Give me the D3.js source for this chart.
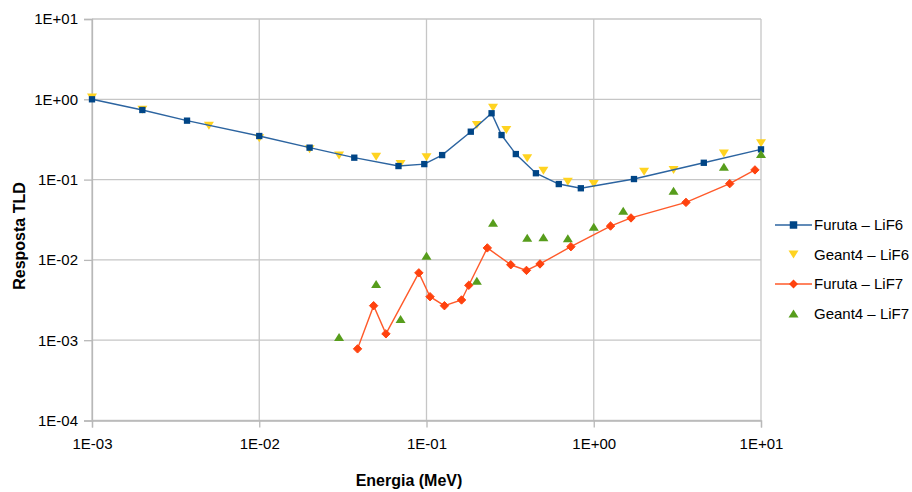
<!DOCTYPE html>
<html>
<head>
<meta charset="utf-8">
<script src="https://cdn.jsdelivr.net/npm/d3@7"></script>
<style>
  body { margin: 0; background: #fff; }
  text { font-family: "Liberation Sans", Arial, sans-serif; }
</style>
</head>
<body>
<div id="chart"></div>
<script>
// Data (energy in MeV, TLD response)
var furutaLiF6E = [0.001, 0.002, 0.0037, 0.01, 0.02, 0.037, 0.068, 0.097, 0.124, 0.184, 0.245, 0.281, 0.342, 0.451, 0.618, 0.837, 1.74, 4.55, 10]
var furutaLiF6R = [1.0, 0.736, 0.542, 0.349, 0.25, 0.1875, 0.1475, 0.156, 0.202, 0.395, 0.67, 0.359, 0.208, 0.12, 0.088, 0.078, 0.1016, 0.162, 0.238]

var geantLiF6E = [0.001, 0.002, 0.005, 0.01, 0.02, 0.03, 0.05, 0.07, 0.1, 0.2, 0.25, 0.3, 0.4, 0.5, 0.7, 1, 2, 3, 6, 10]
var geantLiF6R = [1.05, 0.74, 0.47, 0.327, 0.238, 0.2, 0.193, 0.156, 0.19, 0.478, 0.786, 0.415, 0.184, 0.129, 0.094, 0.088, 0.125, 0.132, 0.212, 0.283]

var furutaLiF7E = [0.0387, 0.0483, 0.0572, 0.09, 0.105, 0.128, 0.162, 0.179, 0.231, 0.319, 0.396, 0.477, 0.73, 1.26, 1.67, 3.56, 6.5, 9.2]
var furutaLiF7R = [0.00078, 0.00269, 0.0012, 0.0069, 0.00348, 0.00269, 0.00317, 0.00483, 0.0141, 0.0087, 0.0074, 0.0089, 0.0146, 0.0264, 0.0333, 0.052, 0.089, 0.132]

var geantLiF7E = [0.03, 0.05, 0.07, 0.1, 0.2, 0.25, 0.4, 0.5, 0.7, 1, 1.5, 3, 6, 10]
var geantLiF7R = [0.0011, 0.005, 0.00184, 0.0113, 0.0055, 0.029, 0.0189, 0.0192, 0.0186, 0.0259, 0.041, 0.0728, 0.145, 0.209]

var xTicks = [0.001, 0.01, 0.1, 1, 10]
var xTickLabels = ["1E-03", "1E-02", "1E-01", "1E+00", "1E+01"]
var yTicks = [0.0001, 0.001, 0.01, 0.1, 1, 10]
var yTickLabels = ["1E-04", "1E-03", "1E-02", "1E-01", "1E+00", "1E+01"]

var seriesNames = ["Furuta \u2013 LiF6", "Geant4 \u2013 LiF6", "Furuta \u2013 LiF7", "Geant4 \u2013 LiF7"]

// Layout
var width = 912, height = 492
var margin = { top: 19, right: 151, bottom: 71.5, left: 92 }
var plotW = width - margin.left - margin.right,
    plotH = height - margin.top - margin.bottom

var blue = "#004586", yellow = "#ffd320", orange = "#ff420e", green = "#579d1c"
var gridColor = "#c6c6c6"

var svg = d3.select("#chart")
    .append("svg")
    .attr("width", width)
    .attr("height", height)

var g = svg.append("g")
    .attr("transform", "translate(" + margin.left + "," + margin.top + ")")

// Scales
var x = d3.scaleLog()
    .domain([0.001, 10])
    .range([0, plotW])

var y = d3.scaleLog()
    .domain([0.0001, 10])
    .range([plotH, 0])

// Grid lines
g.append("g")
    .selectAll("line")
    .data(xTicks)
    .enter()
    .append("line")
    .attr("x1", function(d) { return x(d) })
    .attr("x2", function(d) { return x(d) })
    .attr("y1", 0)
    .attr("y2", plotH)
    .attr("stroke", gridColor)
    .attr("stroke-width", 1.3)

g.append("g")
    .selectAll("line")
    .data(yTicks)
    .enter()
    .append("line")
    .attr("x1", 0)
    .attr("x2", plotW)
    .attr("y1", function(d) { return y(d) })
    .attr("y2", function(d) { return y(d) })
    .attr("stroke", gridColor)
    .attr("stroke-width", 1.3)

// Axes
g.append("g")
    .attr("transform", "translate(0," + plotH + ")")
    .call(d3.axisBottom(x)
        .tickValues(xTicks)
        .tickFormat(function(d, i) { return xTickLabels[i] })
        .tickSize(7)
        .tickPadding(11))

g.append("g")
    .call(d3.axisLeft(y)
        .tickValues(yTicks)
        .tickFormat(function(d, i) { return yTickLabels[i] })
        .tickSize(8)
        .tickPadding(6))

svg.selectAll(".domain, .tick line")
    .attr("stroke", "#b8b8b8")
    .attr("stroke-width", 1.3)
svg.selectAll(".tick text")
    .attr("font-family", "'Liberation Sans', Arial, sans-serif")
    .attr("font-size", "15px")
    .attr("fill", "#000")

// Axis titles
svg.append("text")
    .attr("x", 409)
    .attr("y", 486)
    .attr("text-anchor", "middle")
    .attr("font-size", "16px")
    .attr("font-weight", "bold")
    .text("Energia (MeV)")

svg.append("text")
    .attr("transform", "translate(25,236) rotate(-90)")
    .attr("text-anchor", "middle")
    .attr("font-size", "16px")
    .attr("font-weight", "bold")
    .text("Resposta TLD")

// Marker shapes
var sqSym = d3.symbol().type(d3.symbolSquare).size(40)
function diamond(s) { return "M0," + (-s) + "L" + s + ",0L0," + s + "L" + (-s) + ",0Z" }
function triDown(s) { return "M" + (-s) + "," + (-s * 0.8) + "L" + s + "," + (-s * 0.8) + "L0," + (s * 0.8) + "Z" }
function triUp(s) { return "M" + (-s) + "," + (s * 0.8) + "L" + s + "," + (s * 0.8) + "L0," + (-s * 0.8) + "Z" }

function pairs(ex, rs) { return ex.map(function(e, i) { return [e, rs[i]] }) }

var line = d3.line()
    .x(function(d) { return x(d[0]) })
    .y(function(d) { return y(d[1]) })

// Geant4 LiF6
g.append("g")
    .selectAll("path")
    .data(pairs(geantLiF6E, geantLiF6R))
    .enter()
    .append("path")
    .attr("d", triDown(5))
    .attr("transform", function(d) { return "translate(" + x(d[0]) + "," + y(d[1]) + ")" })
    .attr("fill", yellow)

// Furuta LiF6
g.append("path")
    .datum(pairs(furutaLiF6E, furutaLiF6R))
    .attr("d", line)
    .attr("fill", "none")
    .attr("stroke", "#2c64a0")
    .attr("stroke-width", 1.4)

g.append("g")
    .selectAll("path")
    .data(pairs(furutaLiF6E, furutaLiF6R))
    .enter()
    .append("path")
    .attr("d", sqSym)
    .attr("transform", function(d) { return "translate(" + x(d[0]) + "," + y(d[1]) + ")" })
    .attr("fill", blue)

// Furuta LiF7
g.append("path")
    .datum(pairs(furutaLiF7E, furutaLiF7R))
    .attr("d", line)
    .attr("fill", "none")
    .attr("stroke", "#ff5a2a")
    .attr("stroke-width", 1.4)

g.append("g")
    .selectAll("path")
    .data(pairs(furutaLiF7E, furutaLiF7R))
    .enter()
    .append("path")
    .attr("d", diamond(4.2))
    .attr("transform", function(d) { return "translate(" + x(d[0]) + "," + y(d[1]) + ")" })
    .attr("fill", orange)
    .attr("stroke", orange)
    .attr("stroke-width", 1)
    .attr("stroke-linejoin", "round")

// Geant4 LiF7
g.append("g")
    .selectAll("path")
    .data(pairs(geantLiF7E, geantLiF7R))
    .enter()
    .append("path")
    .attr("d", triUp(5))
    .attr("transform", function(d) { return "translate(" + x(d[0]) + "," + y(d[1]) + ")" })
    .attr("fill", green)

// Legend
var legend = svg.append("g")
    .attr("transform", "translate(775,225)")

seriesNames.forEach(function(name, i) {
    var row = legend.append("g")
        .attr("transform", "translate(0," + (i * 29.5) + ")")
    if (i === 0 || i === 2) {
        row.append("line")
            .attr("x1", 0).attr("x2", 37)
            .attr("y1", 0).attr("y2", 0)
            .attr("stroke", i === 0 ? "#2c64a0" : "#ff5a2a")
            .attr("stroke-width", 1.4)
    }
    var mk = row.append("path")
        .attr("transform", "translate(18.5,0)")
    if (i === 0) mk.attr("d", d3.symbol().type(d3.symbolSquare).size(56)).attr("fill", blue)
    if (i === 1) mk.attr("d", triDown(5)).attr("fill", yellow)
    if (i === 2) mk.attr("d", diamond(4.5)).attr("fill", orange)
    if (i === 3) mk.attr("d", triUp(5)).attr("fill", green)
    row.append("text")
        .attr("x", 39)
        .attr("y", 5)
        .attr("font-size", "15px")
        .text(name)
})
</script>
</body>
</html>
